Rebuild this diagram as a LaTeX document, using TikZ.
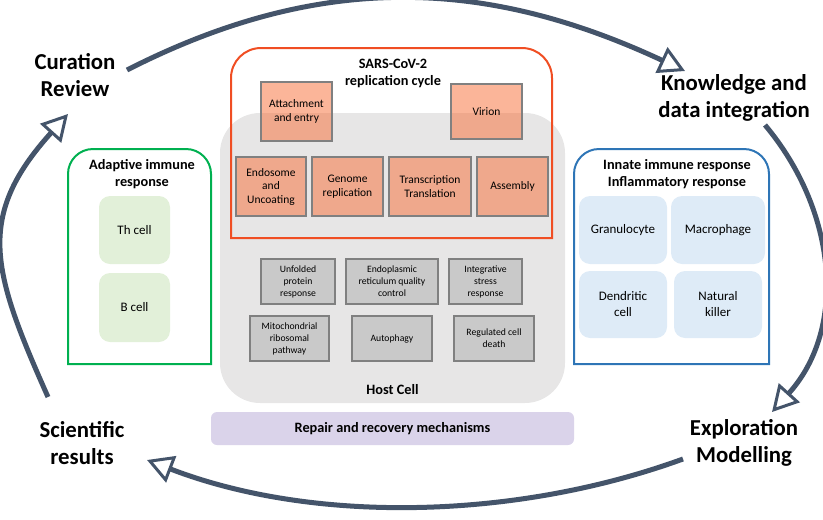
\documentclass[tikz,border=0pt]{standalone}
\usepackage{fontspec}
\setmainfont{Carlito}
\usepackage{tikz}
\usetikzlibrary{arrows.meta}
\usetikzlibrary{positioning}
\definecolor{cycle}{HTML}{44546A}
\definecolor{sars}{HTML}{F04E23}
\definecolor{virus}{RGB}{247,107,51}
\definecolor{boxline}{HTML}{808080}
\definecolor{host}{HTML}{E7E6E6}
\definecolor{hostproc}{HTML}{C9C9C9}
\definecolor{repair}{HTML}{DAD3EA}
\definecolor{adaptive}{HTML}{00B050}
\definecolor{adaptivecell}{HTML}{E2F0D9}
\definecolor{innate}{HTML}{2E75B6}
\definecolor{innatecell}{HTML}{DEEBF7}

\begin{document}
\begin{tikzpicture}[x=1pt,y=1pt,
  cyc/.style={
    draw=cycle, line width=5pt,
    -{Triangle[length=26pt,width=28pt,line width=3pt,fill=white]}
  },
  cyclelabel/.style={
    font=\fontsize{22.8}{26.5}\selectfont\bfseries,
    align=center},
  frametitle/.style={
    font=\fontsize{14.3}{17}\selectfont\bfseries,
    align=center},
  frame/.style={
    draw=#1, line width=2pt},
  virusbox/.style={
    draw=boxline, line width=1.5pt,
    fill=virus, fill opacity=0.5, text opacity=1,
    font=\fontsize{11.5}{13.5}\selectfont,
    align=center, inner sep=0pt},
  hostbox/.style={
    draw=boxline, line width=1.5pt,
    fill=hostproc, minimum height=45pt,
    font=\fontsize{9.7}{12}\selectfont,
    align=center, inner sep=0pt},
  cellbox/.style={
    fill=#1, rounded corners=11pt,
    font=\fontsize{13}{16}\selectfont,
    align=center, inner sep=0pt},
]

  \useasboundingbox (0,0) rectangle (823,-520);

  % Host cell
  \node[fill=host, rounded corners=40pt, minimum width=345pt, minimum height=290pt] (hostcell) at (392.5,-258) {};
  \node[frametitle, anchor=south] (hostlabel) at ([yshift=5pt]hostcell.south) {Host Cell};

  % SARS-CoV-2 replication cycle
  \draw[frame=sars] (231,-238) -- (231,-78) arc[start angle=180, end angle=90, radius=30]
    -- (522,-48) arc[start angle=90, end angle=0, radius=30] -- (552,-238) -- cycle;
  \node[frametitle] (sarstitle) at (393,-73.5) {SARS-CoV-2\\replication cycle};

  \node[virusbox, minimum width=71pt, minimum height=59pt] (attach) at (296.5,-111.5) {Attachment\\and entry};
  \node[virusbox, minimum width=71pt, minimum height=55pt] (virion) at (486.5,-111.5) {Virion};
  \foreach \name/\x/\w/\txt in {endosome/271/70/{Endosome\\and\\Uncoating},
                                genome/347.5/71/{Genome\\replication},
                                transcription/430/82/{Transcription\\Translation},
                                assembly/512.5/71/{Assembly}} {
    \node[virusbox, minimum width=\w pt, minimum height=59pt] (\name) at (\x,-186.5) {\txt};
  }

  % Host cell processes
  \foreach \name/\x/\w/\txt in {unfolded/298/74/{Unfolded\\protein\\response},
                                erqc/392/92/{Endoplasmic\\reticulum quality\\control},
                                stress/485.5/73/{Integrative\\stress\\response}} {
    \node[hostbox, minimum width=\w pt] (\name) at (\x,-281.5) {\txt};
  }
  \foreach \name/\x/\w/\txt in {mito/289.5/79/{Mitochondrial\\ribosomal\\pathway},
                                autophagy/392/80/{Autophagy},
                                death/494/80/{Regulated cell\\death}} {
    \node[hostbox, minimum width=\w pt] (\name) at (\x,-338.5) {\txt};
  }

  % Repair
  \node[frametitle, fill=repair, rounded corners=6pt, minimum width=363pt, minimum height=33pt] (repair) at (392.5,-428.5) {Repair and recovery mechanisms};

  % Adaptive immune response
  \draw[frame=adaptive] (68,-364) -- (68,-174) arc[start angle=180, end angle=90, radius=25]
    -- (186,-149) arc[start angle=90, end angle=0, radius=25] -- (211,-364) -- cycle;
  \node[frametitle] (adaptivetitle) at (142,-174.5) {Adaptive immune\\response};
  \node[cellbox=adaptivecell, minimum width=71pt, minimum height=68pt] (thcell) at (134.5,-230) {Th cell};
  \node[cellbox=adaptivecell, minimum width=71pt, minimum height=69pt] (bcell) at (134.5,-307.5) {B cell};

  % Innate immune response
  \draw[frame=innate] (574,-364) -- (574,-174) arc[start angle=180, end angle=90, radius=25]
    -- (744,-149) arc[start angle=90, end angle=0, radius=25] -- (769,-364) -- cycle;
  \node[frametitle] (innatetitle) at (677,-174.5) {Innate immune response\\Inflammatory response};
  \node[cellbox=innatecell, minimum width=88pt, minimum height=68pt] (granulocyte) at (623,-230) {Granulocyte};
  \node[cellbox=innatecell, minimum width=94pt, minimum height=68pt] (macrophage) at (718,-230) {Macrophage};
  \node[cellbox=innatecell, minimum width=88pt, minimum height=67pt] (dendritic) at (623,-304.5) {Dendritic\\cell};
  \node[cellbox=innatecell, minimum width=88pt, minimum height=67pt] (killer) at (718,-304.5) {Natural\\killer};

  % Research cycle
  \node[cyclelabel] (curation) at (75,-75) {Curation\\Review};
  \node[cyclelabel] (knowledge) at (734,-98) {Knowledge and\\data integration};
  \node[cyclelabel] (exploration) at (744,-443) {Exploration\\Modelling};
  \node[cyclelabel] (results) at (82,-443) {Scientific\\results};

  \coordinate (curation-out) at (127,-70);
  \coordinate (knowledge-in) at (685,-71);
  \coordinate (knowledge-out) at (765,-125);
  \coordinate (exploration-in) at (772,-412);
  \coordinate (exploration-out) at (683,-459);
  \coordinate (results-in) at (147,-460);
  \coordinate (results-out) at (48,-397);
  \coordinate (curation-in) at (68,-114);

  \draw[cyc] (curation-out) to[out=27,in=155] (knowledge-in);
  \draw[cyc] (knowledge-out) to[out=-50,in=48] (exploration-in);
  \draw[cyc] (exploration-out) to[out=200,in=-21,looseness=0.85] (results-in);
  \draw[cyc] (results-out) to[out=114,in=228,looseness=1.25] (curation-in);

\end{tikzpicture}
\end{document}
